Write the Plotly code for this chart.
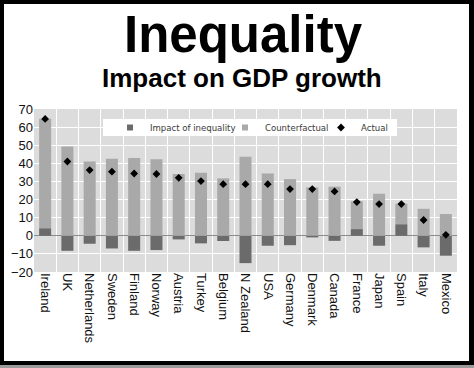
import plotly.graph_objects as go

countries = ["Ireland", "UK", "Netherlands", "Sweden", "Finland", "Norway", "Austria",
             "Turkey", "Belgium", "N Zealand", "USA", "Germany", "Denmark", "Canada",
             "France", "Japan", "Spain", "Italy", "Mexico"]
impact = [4.2, -8.3, -4.4, -7.0, -8.3, -7.9, -2.0, -4.2, -2.9, -15.1, -5.5, -5.2,
          -0.9, -2.8, 3.7, -5.5, 6.4, -6.4, -11.0]
counterfactual = [60.4, 49.3, 41.0, 42.5, 42.9, 42.2, 34.1, 34.8, 31.7, 43.6, 34.4, 31.3,
                  26.7, 27.1, 15.3, 23.2, 11.3, 14.9, 12.0]
actual = [64.5, 41.0, 36.3, 35.4, 34.4, 34.1, 32.0, 30.2, 28.5, 28.5, 28.5, 25.8,
          25.8, 24.5, 18.6, 17.5, 17.5, 8.7, 0.5]
y_ticks = [70, 60, 50, 40, 30, 20, 10, 0, -10, -20]

W, H = 474, 368
L, R, T, B = 34, 17, 109, 96
PW, PH = W - L - R, H - T - B

DARK, LIGHT = "#6b6b6b", "#a9a9a9"


def fx(px):
    return (px - L) / PW


def fy(py):
    return (H - B - py) / PH


LEG_FONT = dict(family="DejaVu Sans Condensed, Liberation Sans Narrow, sans-serif",
                size=9.5, color="#3a3a3a")

fig = go.Figure()
fig.add_trace(go.Bar(x=countries, y=impact, name="Impact of inequality",
                     marker=dict(color=DARK, line=dict(width=0)), showlegend=False,
                     legendgroup="imp"))
fig.add_trace(go.Bar(x=countries, y=counterfactual, name="Counterfactual",
                     marker=dict(color=LIGHT, line=dict(width=0)), showlegend=False,
                     legendgroup="cf"))
fig.add_trace(go.Scatter(x=countries, y=actual, name="Actual", mode="markers",
                         marker=dict(symbol="diamond", size=6, color="black"),
                         showlegend=False, legendgroup="act"))
# legend entries (small square keys like the original)
fig.add_trace(go.Scatter(x=[None], y=[None], name="Impact of inequality", mode="markers",
                         marker=dict(symbol="square", size=6, color=DARK),
                         legendgroup="imp", legendwidth=70))
fig.add_trace(go.Scatter(x=[None], y=[None], name="Counterfactual", mode="markers",
                         marker=dict(symbol="square", size=6, color=LIGHT),
                         legendgroup="cf", legendwidth=51))
fig.add_trace(go.Scatter(x=[None], y=[None], name="Actual", mode="markers",
                         marker=dict(symbol="diamond", size=6, color="black"),
                         legendgroup="act", legendwidth=30))

shapes = []
# legend white box
shapes.append(dict(type="rect", xref="paper", yref="paper", x0=fx(103), x1=fx(397),
                   y0=fy(136), y1=fy(119), fillcolor="white", line=dict(width=0), layer="above"))
# outer frame
frame = [(0, 4, 0, 365), (469, 474, 0, 365), (0, 474, 0, 4), (0, 474, 361, 365)]
for x0, x1, y0, y1 in frame:
    shapes.append(dict(type="rect", xref="paper", yref="paper", x0=fx(x0), x1=fx(x1),
                       y0=fy(y1), y1=fy(y0), fillcolor="black", line=dict(width=0), layer="above"))
shapes.append(dict(type="rect", xref="paper", yref="paper", x0=fx(0), x1=fx(474),
                   y0=fy(368), y1=fy(365), fillcolor="#9a9a9a", line=dict(width=0), layer="above"))

annotations = [
    dict(text="<b>Inequality</b>", xref="paper", yref="paper", x=fx(243), y=fy(4),
         xanchor="center", yanchor="top", showarrow=False,
         font=dict(family="Liberation Sans, Arial, sans-serif", size=51, color="black")),
    dict(text="<b>Impact on GDP growth</b>", xref="paper", yref="paper", x=fx(242), y=fy(61),
         xanchor="center", yanchor="top", showarrow=False,
         font=dict(family="Liberation Sans, Arial, sans-serif", size=26, color="black")),
]

fig.update_layout(
    width=W, height=H, margin=dict(l=L, r=R, t=T, b=B, pad=0, autoexpand=False),
    paper_bgcolor="white", plot_bgcolor="#dcdcdc",
    barmode="relative", bargap=0.46,
    shapes=shapes, annotations=annotations,
    showlegend=True,
    legend=dict(orientation="h", bgcolor="rgba(0,0,0,0)", font=LEG_FONT,
                xanchor="left", yanchor="middle", x=fx(110), y=fy(127.5),
                traceorder="normal", itemwidth=30),
    xaxis=dict(type="category", tickson="boundaries", showgrid=True, gridcolor="white",
               gridwidth=1, tickangle=90, ticks="", showline=False,
               tickfont=dict(family="Liberation Sans, Arial, sans-serif", size=13, color="#111"),
               range=[-0.5, len(countries) - 0.5]),
    yaxis=dict(range=[-20, 70], tickvals=y_ticks, showgrid=True, gridcolor="white",
               gridwidth=1, zeroline=True, zerolinecolor="#8c8c8c", zerolinewidth=1,
               ticks="", showline=False,
               tickfont=dict(family="Liberation Sans, Arial, sans-serif", size=13, color="#111")),
)

fig.write_html("out.html", config={"displayModeBar": False},
               post_script="document.body.style.margin='0';document.body.style.overflow='hidden';")
